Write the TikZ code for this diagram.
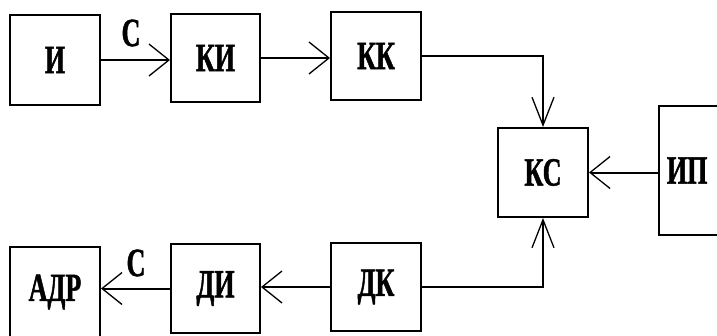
\documentclass[tikz,border=0pt]{standalone}
\usepackage{fontspec}
\setmainfont[FakeStretch=0.65,BoldFeatures={FakeBold=1.2}]{Liberation Serif}
\usetikzlibrary{arrows.meta}
\begin{document}
\begin{tikzpicture}[x=1pt,y=-1pt,
  box/.style={draw, line width=2pt, inner sep=0pt, font=\fontsize{40}{40}\selectfont\bfseries},
  lbl/.style={inner sep=0pt, font=\fontsize{40}{40}\selectfont\bfseries},
  harrow/.style={line width=2pt, -{Straight Barb[length=20pt,width=32pt,line width=1.3pt]}},
  varrow/.style={line width=2pt, -{Straight Barb[length=28pt,width=22pt,line width=1.3pt]}}]
\useasboundingbox (0,0) rectangle (717,335);
\fill[white] (0,0) rectangle (717,335);
\node[box, minimum width=90pt, minimum height=90pt] (i) at (55,60) {И};
\node[box, minimum width=89pt, minimum height=88pt] (ki) at (215.5,58) {КИ};
\node[box, minimum width=90pt, minimum height=88pt] (kk) at (376,56) {КК};
\node[box, minimum width=90pt, minimum height=89pt] (ks) at (543,172.5) {КС};
\node[box, anchor=west, text width=94pt, inner xsep=8pt, align=left, minimum height=129pt] (ip) at (658,170.5) {ИП};
\node[box, minimum width=90pt, minimum height=88pt] (dk) at (376,287) {ДК};
\node[box, minimum width=89pt, minimum height=89pt] (di) at (215.5,288.5) {ДИ};
\node[box, minimum width=90pt, minimum height=90pt] (adr) at (55,292) {АДР};
\draw[harrow] (i.east) -- (i.east -| ki.west);
\draw[harrow] (ki.east) -- (ki.east -| kk.west);
\draw[varrow] (kk.east) -| (ks.north);
\draw[harrow] (ip.west |- ks.east) -- (ks.east);
\draw[varrow] (dk.east) -| (ks.south);
\draw[harrow] (dk.west) -- (dk.west -| di.east);
\draw[harrow] (di.west) -- (di.west -| adr.east);
\node[lbl] (c1) at (131,33) {С};
\node[lbl] (c2) at (136,263) {С};
\end{tikzpicture}
\end{document}
